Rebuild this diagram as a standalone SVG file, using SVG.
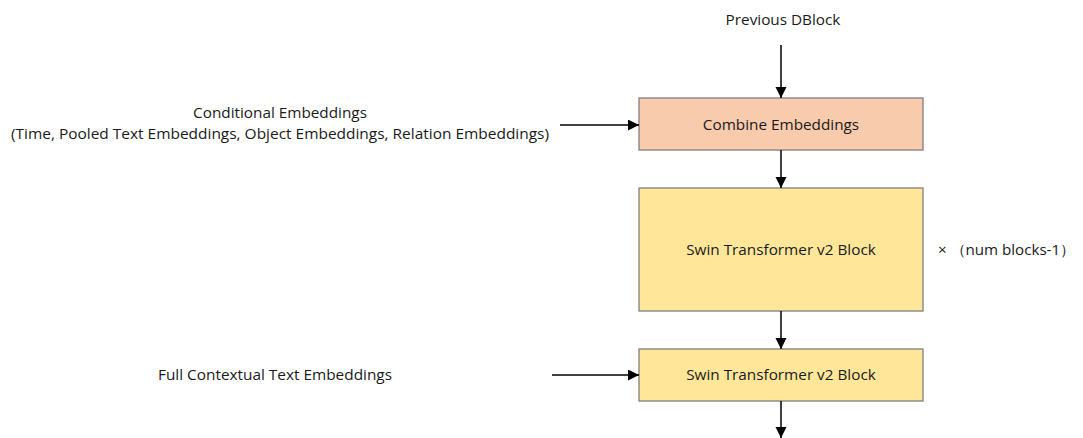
<svg xmlns="http://www.w3.org/2000/svg" width="1083" height="438" viewBox="0 0 1083 438">
<style>
text{font-family:"Open Sans","Liberation Sans",sans-serif;font-size:15.3px;fill:#1a1a1a}
.c{text-anchor:middle}
.box{stroke:#7f7f7f;stroke-width:1.3}
.e{stroke:#000;stroke-width:1.5;fill:none;marker-end:url(#ah)}
</style>
<defs>
<marker id="ah" markerWidth="12" markerHeight="12" refX="11" refY="5.5" orient="auto" markerUnits="userSpaceOnUse">
<path d="M0,0 L11,5.5 L0,11 Z" fill="#000"/>
</marker>
</defs>
<rect width="1083" height="438" fill="#fff"/>
<g id="labels">
<text class="c" x="783" y="25">Previous DBlock</text>
<text class="c" x="280" y="118">Conditional Embeddings</text>
<text class="c" x="280" y="139" textLength="538" lengthAdjust="spacingAndGlyphs">(Time, Pooled Text Embeddings, Object Embeddings, Relation Embeddings)</text>
<text x="158" y="380" textLength="234" lengthAdjust="spacingAndGlyphs">Full Contextual Text Embeddings</text>
<text x="938" y="255" textLength="137" lengthAdjust="spacingAndGlyphs">× （num blocks-1）</text>
</g>
<g id="combine">
<rect class="box" x="639" y="98" width="284" height="52" fill="#F8CBAD"/>
<text class="c" x="781" y="130">Combine Embeddings</text>
</g>
<g id="swin1">
<rect class="box" x="639" y="188" width="284" height="123" fill="#FFE699"/>
<text class="c" x="781" y="255">Swin Transformer v2 Block</text>
</g>
<g id="swin2">
<rect class="box" x="639" y="349" width="284" height="52" fill="#FFE699"/>
<text class="c" x="781" y="380">Swin Transformer v2 Block</text>
</g>
<g id="connectors">
<line class="e" x1="781" y1="45" x2="781" y2="98"/>
<line class="e" x1="560" y1="125" x2="639" y2="125"/>
<line class="e" x1="781" y1="150" x2="781" y2="188"/>
<line class="e" x1="781" y1="311" x2="781" y2="349"/>
<line class="e" x1="552" y1="375" x2="639" y2="375"/>
<line class="e" x1="781" y1="401" x2="781" y2="438"/>
</g>
</svg>
